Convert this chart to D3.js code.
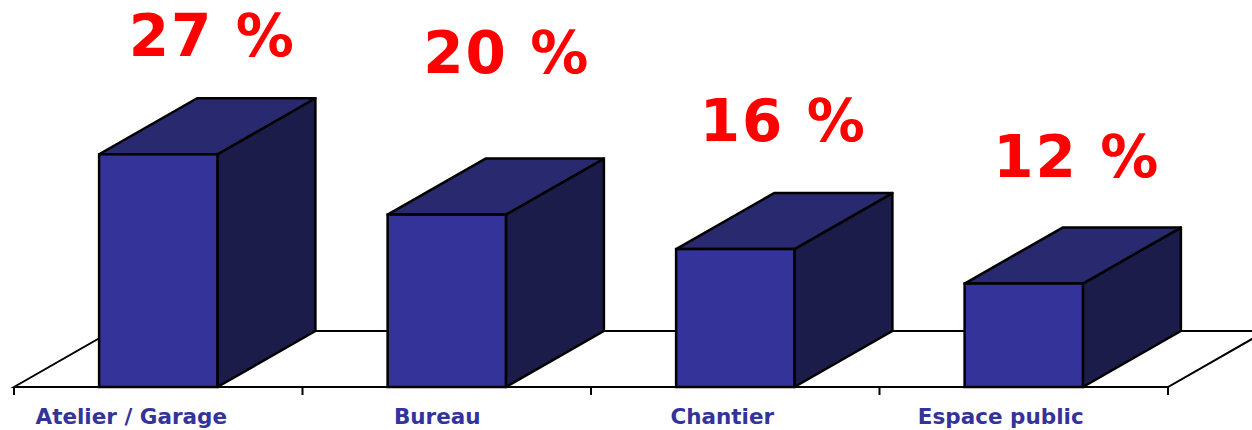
<!DOCTYPE html>
<html>
<head>
<meta charset="utf-8">
<script src="https://cdn.jsdelivr.net/npm/d3@7"></script>
<style>
  html, body { margin: 0; padding: 0; background: #ffffff; }
  svg { display: block; }
</style>
</head>
<body>
<svg id="chart" width="1252" height="430"></svg>
<script>
// ---- data ----
const categories = ["Atelier / Garage", "Bureau", "Chantier", "Espace public"];
const values = [27, 20, 16, 12];
const valueLabels = ["27 %", "20 %", "16 %", "12 %"];

// ---- layout (not data) ----
const W = 1252, H = 430;
const floorY = 387;
const depthX = 98, depthY = 56;
const labelShift = [[54, -98], [60, -142], [48, -108], [53, -107]];
const catShift = [-27, -9.5, -13, -23];
const colors = { front: "#333399", top: "#292970", side: "#1c1c4a", label: "#ff0000", axis: "#333399" };

const svg = d3.select("#chart");

const x = d3.scaleBand().domain(categories).range([14, 1168]).paddingInner(0.59).paddingOuter(0.295);
const xCat = d3.scaleBand().domain(categories).range([14, 1168]).padding(0);
const y = d3.scaleLinear().domain([0, 30]).range([floorY, floorY - 30 * 8.62]);

// floor
const floor = svg.append("g");
floor.append("path")
  .attr("d", `M14,${floorY} L${14 + depthX},${floorY - depthY} L${1168 + depthX},${floorY - depthY} L1168,${floorY} Z`)
  .attr("fill", "#ffffff").attr("stroke", "#000").attr("stroke-width", 2);

// axis with ticks at category boundaries
const axisG = svg.append("g").attr("transform", `translate(0,${floorY})`);
axisG.append("line").attr("x1", 14).attr("x2", 1168).attr("y1", 0).attr("y2", 0)
  .attr("stroke", "#000").attr("stroke-width", 2);
const bounds = categories.map(c => xCat(c)).concat([xCat(categories[categories.length - 1]) + xCat.bandwidth()]);
axisG.selectAll("line.tick").data(bounds).enter().append("line").attr("class", "tick")
  .attr("x1", d => d).attr("x2", d => d).attr("y1", 0).attr("y2", 8)
  .attr("stroke", "#000").attr("stroke-width", 2);

axisG.selectAll("text.cat").data(categories).enter().append("text").attr("class", "cat")
  .attr("x", (d, i) => xCat(d) + xCat.bandwidth() / 2 + catShift[i])
  .attr("y", 37)
  .attr("text-anchor", "middle")
  .attr("font-family", "'DejaVu Sans', sans-serif")
  .attr("font-weight", "bold")
  .attr("font-size", 21.5)
  .attr("fill", colors.axis)
  .text(d => d);

// bars
const bars = svg.append("g");
categories.forEach((c, i) => {
  const x0 = x(c), x1 = x(c) + x.bandwidth();
  const yt = y(values[i]), yb = y(0);
  const g = bars.append("g");
  // side face
  g.append("path")
    .attr("d", `M${x1},${yb} L${x1 + depthX},${yb - depthY} L${x1 + depthX},${yt - depthY} L${x1},${yt} Z`)
    .attr("fill", colors.side).attr("stroke", "#000").attr("stroke-width", 2.5).attr("stroke-linejoin", "round");
  // top face
  g.append("path")
    .attr("d", `M${x0},${yt} L${x0 + depthX},${yt - depthY} L${x1 + depthX},${yt - depthY} L${x1},${yt} Z`)
    .attr("fill", colors.top).attr("stroke", "#000").attr("stroke-width", 2.5).attr("stroke-linejoin", "round");
  // front face
  g.append("rect")
    .attr("x", x0).attr("y", yt).attr("width", x1 - x0).attr("height", yb - yt)
    .attr("fill", colors.front).attr("stroke", "#000").attr("stroke-width", 2.5);
});

// value labels
svg.append("g").selectAll("text").data(categories).enter().append("text")
  .attr("x", (d, i) => x(d) + x.bandwidth() / 2 + labelShift[i][0])
  .attr("y", (d, i) => y(values[i]) + labelShift[i][1])
  .attr("text-anchor", "middle")
  .attr("font-family", "'DejaVu Sans', Verdana, sans-serif")
  .attr("font-weight", "bold")
  .attr("font-size", 58)
  .attr("letter-spacing", 2)
  .attr("fill", colors.label)
  .text((d, i) => valueLabels[i]);
</script>
</body>
</html>
